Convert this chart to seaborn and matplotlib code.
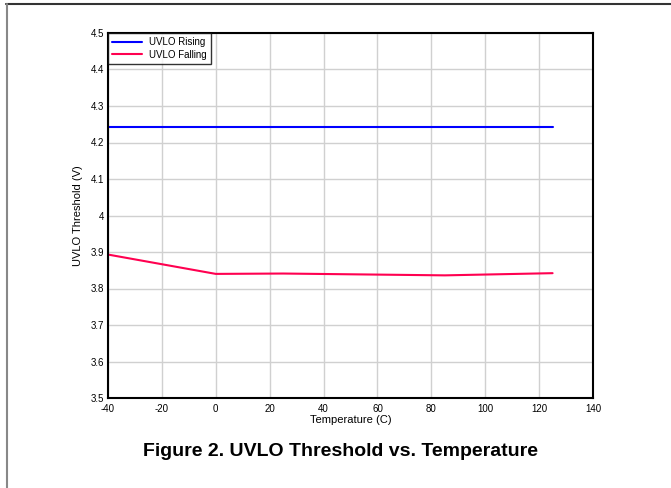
import pandas as pd
import seaborn as sns

import matplotlib
matplotlib.use('Agg')
import matplotlib.pyplot as plt
from matplotlib.lines import Line2D
from matplotlib.ticker import FuncFormatter

# data
temp_c = [-40, 0, 25, 85, 125]
uvlo_rising = [4.243, 4.243, 4.243, 4.243, 4.243]
uvlo_falling = [3.893, 3.840, 3.841, 3.836, 3.842]
x_ticks = [-40, -20, 0, 20, 40, 60, 80, 100, 120, 140]
y_ticks = [3.5, 3.6, 3.7, 3.8, 3.9, 4.0, 4.1, 4.2, 4.3, 4.4, 4.5]

df = pd.DataFrame({
    "Temperature": temp_c * 2,
    "Threshold": uvlo_rising + uvlo_falling,
    "Series": ["UVLO Rising"] * len(temp_c) + ["UVLO Falling"] * len(temp_c),
})

sns.set_style("white")
plt.rcParams['font.family'] = ['Liberation Sans', 'DejaVu Sans']
plt.rcParams['axes.unicode_minus'] = False
plt.rcParams['text.color'] = 'black'
plt.rcParams['axes.labelcolor'] = 'black'
plt.rcParams['xtick.color'] = 'black'
plt.rcParams['ytick.color'] = 'black'

fig = plt.figure(figsize=(6.71, 4.88), dpi=100)
ax = fig.add_axes([108 / 671, 1 - 398 / 488, 485 / 671, 365 / 488])

palette = {"UVLO Rising": "#0000ff", "UVLO Falling": "#ff0050"}
sns.lineplot(data=df, x="Temperature", y="Threshold", hue="Series",
             palette=palette, linewidth=1.5, ax=ax, legend=False)

ax.set_xlim(-40, 140)
ax.set_ylim(3.5, 4.5)
ax.set_xticks(x_ticks)
ax.set_yticks(y_ticks)
ax.yaxis.set_major_formatter(FuncFormatter(lambda v, p: f"{v:g}"))
ax.grid(True, color="#d0d0d0", linewidth=1)
ax.tick_params(axis="both", length=0, labelsize=7)
ax.tick_params(axis="x", pad=4)
ax.tick_params(axis="y", pad=3)
for s in ax.spines.values():
    s.set_color("black")
    s.set_linewidth(1.5)
ax.set_xlabel("Temperature (C)", fontsize=8, labelpad=1)
ax.set_ylabel("UVLO Threshold (V)", fontsize=8, labelpad=5)

handles = [Line2D([0], [0], color=palette[k], linewidth=1.5) for k in palette]
leg = ax.legend(handles, list(palette), loc="upper left", fontsize=7,
                frameon=True, fancybox=False, borderaxespad=0,
                handlelength=3, borderpad=0.45, labelspacing=0.25)
leg.get_frame().set_edgecolor("black")
leg.get_frame().set_linewidth(1)

fig.text(0.507, 1 - 452 / 488, "Figure 2. UVLO Threshold vs. Temperature",
         ha="center", va="center", fontsize=14, fontweight="bold")

# page border lines
fig.add_artist(Line2D([6 / 671, 1], [1 - 3.5 / 488] * 2, color="#333333", linewidth=1.5))
fig.add_artist(Line2D([6.5 / 671] * 2, [0, 1 - 3.5 / 488], color="#888888", linewidth=1.5))

fig.savefig("out.png", dpi=100)
